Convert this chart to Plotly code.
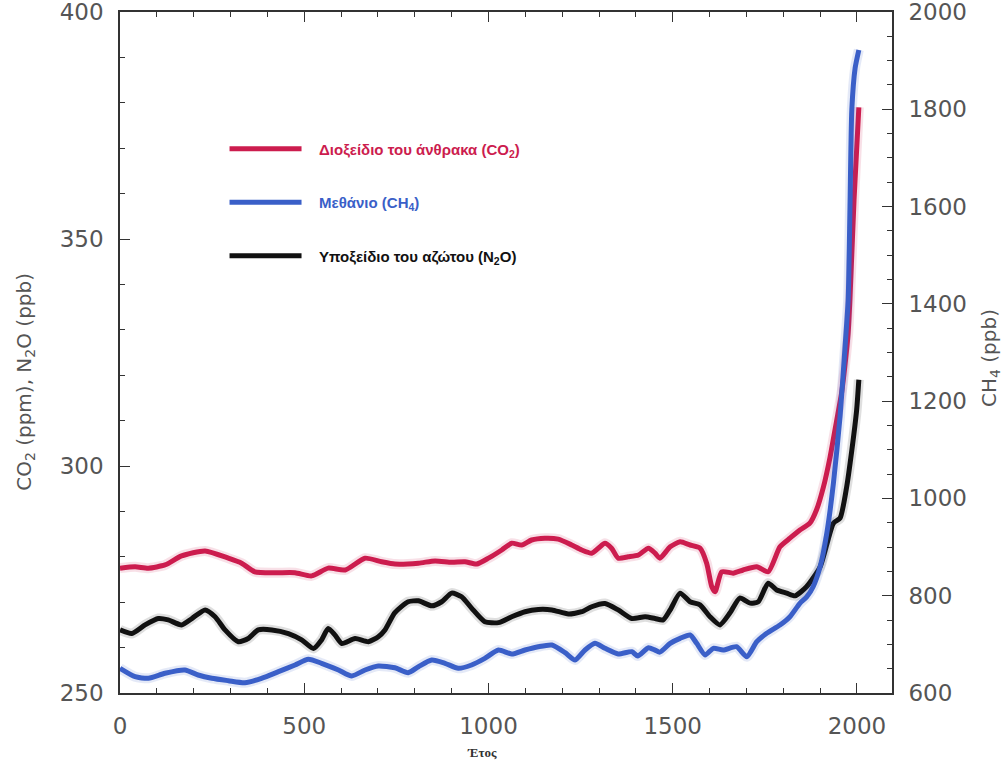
import plotly.graph_objects as go

# CO2 (ppm) — left axis
co2_year = [0, 41, 77, 122, 167, 231, 294, 330, 366, 421, 475, 520, 565, 611, 665, 710,
            746, 810, 855, 900, 936, 968, 1000, 1036, 1063, 1090, 1117, 1153, 1189, 1226,
            1253, 1280, 1298, 1316, 1334, 1352, 1379, 1407, 1434, 1452, 1465, 1493, 1520,
            1547, 1574, 1592, 1606, 1615, 1633, 1664, 1691, 1728, 1759, 1791, 1818, 1845,
            1872, 1890, 1909, 1927, 1945, 1958, 1967, 1976, 1981, 1992, 2005]
co2_ppm = [277.5, 277.8, 277.5, 278.2, 280.2, 281.3, 279.7, 278.6, 276.7, 276.5, 276.5,
           275.8, 277.5, 277.1, 279.7, 278.9, 278.4, 278.6, 279.1, 278.8, 278.9, 278.4,
           279.7, 281.5, 283.0, 282.6, 283.7, 284.1, 283.9, 282.6, 281.5, 280.8, 281.9,
           283.0, 281.9, 279.7, 280.0, 280.4, 281.9, 280.8, 279.7, 282.2, 283.3, 282.6,
           281.9, 278.6, 273.4, 272.3, 276.7, 276.4, 277.1, 277.8, 276.7, 282.2, 284.1,
           285.9, 287.4, 290.3, 295.4, 302.0, 310.1, 316.0, 321.9, 329.2, 337.0, 358.6,
           379.0]

# CH4 (ppb) — right axis
ch4_year = [0, 41, 77, 122, 176, 212, 249, 294, 339, 384, 430, 475, 511, 547, 593, 629,
            665, 701, 746, 782, 810, 846, 882, 918, 954, 990, 1027, 1063, 1099, 1135, 1172,
            1208, 1235, 1262, 1289, 1316, 1352, 1389, 1405, 1434, 1452, 1465, 1493, 1520,
            1547, 1565, 1588, 1610, 1637, 1673, 1701, 1728, 1755, 1791, 1818, 1845, 1864,
            1881, 1900, 1918, 1936, 1954, 1967, 1976, 1981, 1986, 1995, 2005]
ch4_ppb = [650.8, 633.5, 630.2, 640.5, 647.3, 637.0, 630.2, 625.3, 621.2, 630.2, 643.8,
           657.6, 669.3, 661.1, 647.3, 635.0, 647.3, 655.5, 651.8, 641.8, 654.1, 667.8,
           661.1, 650.8, 657.6, 671.3, 688.4, 680.2, 688.4, 695.2, 698.7, 682.9, 667.8,
           688.4, 702.1, 691.8, 680.2, 685.0, 676.0, 693.0, 688.0, 684.0, 702.1, 712.4,
           719.2, 702.1, 678.1, 691.9, 688.4, 695.2, 674.6, 705.5, 722.7, 739.8, 756.9,
           784.4, 798.0, 818.5, 859.7, 928.3, 1031.1, 1168.1, 1305.2, 1408.0, 1600.0,
           1800.0, 1885.0, 1922.0]

# N2O (ppb) — left axis
n2o_year = [0, 32, 68, 104, 131, 167, 195, 231, 258, 285, 321, 348, 375, 412, 457, 493,
            525, 547, 565, 583, 602, 638, 674, 701, 719, 746, 782, 810, 846, 873, 900, 927,
            954, 990, 1027, 1063, 1099, 1135, 1172, 1217, 1253, 1280, 1316, 1352, 1389,
            1425, 1452, 1474, 1493, 1520, 1547, 1574, 1601, 1628, 1655, 1682, 1710, 1732,
            1759, 1782, 1809, 1832, 1863, 1900, 1936, 1954, 1972, 1986, 1999, 2005]
n2o_ppb = [263.9, 263.1, 265.0, 266.4, 266.1, 265.0, 266.4, 268.3, 266.8, 263.9, 261.3,
           262.0, 263.9, 263.9, 263.1, 261.7, 259.8, 261.7, 264.2, 262.8, 260.9, 262.0,
           261.3, 262.4, 263.9, 267.7, 270.1, 270.3, 269.2, 270.1, 272.0, 271.2, 268.7,
           265.7, 265.5, 266.8, 267.9, 268.4, 268.3, 267.4, 267.9, 269.0, 269.7, 268.3,
           266.4, 266.8, 266.4, 266.1, 268.3, 272.0, 270.1, 269.4, 266.8, 265.0, 267.6,
           270.9, 269.8, 270.1, 274.2, 272.7, 272.0, 271.4, 273.4, 277.8, 287.4, 288.5,
           295.4, 303.5, 312.3, 319.0]

colors = ["#cc1c4e", "#3a5fc8", "#111111"]
labels = [
    "Διοξείδιο του άνθρακα (CO<sub>2</sub>)",
    "Μεθάνιο (CH<sub>4</sub>)",
    "Υποξείδιο του αζώτου (N<sub>2</sub>O)",
]
# legend entries carry their series colour; a small gap separates key and text
series_names = [f"<span style='color:{c}'>&nbsp;&nbsp;&nbsp;{t}</span>"
                for c, t in zip(colors, labels)]

tick_font = dict(family="DejaVu Sans", size=23, color="#555555")
axis_line = "#333333"

fig = go.Figure()

series = [
    (co2_year, co2_ppm, "y", 0),
    (n2o_year, n2o_ppb, "y", 2),
    (ch4_year, ch4_ppb, "y2", 1),
]

# soft halo underneath each curve
for xs, ys, ax, i in series:
    fig.add_trace(go.Scatter(x=xs, y=ys, yaxis=ax, mode="lines",
                             line=dict(color=colors[i], width=10, shape="spline",
                                       smoothing=0.6),
                             opacity=0.13, showlegend=False, hoverinfo="skip"))

for xs, ys, ax, i in series:
    fig.add_trace(go.Scatter(x=xs, y=ys, yaxis=ax, mode="lines", name=series_names[i],
                             legendgroup=str(i), legendrank=i + 1,
                             line=dict(color=colors[i], width=5, shape="spline",
                                       smoothing=0.6)))

fig.update_layout(
    width=1006, height=766,
    margin=dict(l=120, r=114, t=12, b=73),
    paper_bgcolor="white", plot_bgcolor="white",
    showlegend=True,
    legend=dict(x=0.1354, y=0.823, xanchor="left", yanchor="top",
                bgcolor="rgba(0,0,0,0)", itemwidth=72, tracegroupgap=31,
                font=dict(family="Liberation Sans", size=15, weight="bold")),
    xaxis=dict(range=[0, 2095], tickvals=[0, 500, 1000, 1500, 2000],
               ticks="inside", ticklen=10, tickwidth=1.3, tickcolor=axis_line,
               minor=dict(dtick=100, ticks="inside", ticklen=5, tickcolor=axis_line,
                          tickwidth=1.2),
               showline=True, linecolor=axis_line, linewidth=1.6, mirror="ticks",
               showgrid=False, zeroline=False, tickfont=tick_font,
               ticklabelstandoff=12, automargin=False, ticklabeloverflow="allow"),
    yaxis=dict(range=[250, 400], tickvals=[250, 300, 350, 400],
               ticks="inside", ticklen=10, tickwidth=1.3, tickcolor=axis_line,
               minor=dict(dtick=10, ticks="inside", ticklen=5, tickcolor=axis_line,
                          tickwidth=1.2),
               showline=True, linecolor=axis_line, linewidth=1.6,
               showgrid=False, zeroline=False, tickfont=tick_font,
               ticklabelstandoff=10, automargin=False, ticklabeloverflow="allow"),
    yaxis2=dict(range=[600, 2000], tickvals=[600, 800, 1000, 1200, 1400, 1600, 1800, 2000],
                overlaying="y", side="right",
                ticks="inside", ticklen=10, tickwidth=1.3, tickcolor=axis_line,
                minor=dict(dtick=50, ticks="inside", ticklen=5, tickcolor=axis_line,
                           tickwidth=1.2),
                showline=True, linecolor=axis_line, linewidth=1.6,
                showgrid=False, zeroline=False, tickfont=tick_font,
                ticklabelstandoff=10, automargin=False, ticklabeloverflow="allow"),
    annotations=[
        dict(text="CO<sub>2</sub> (ppm), N<sub>2</sub>O (ppb)", textangle=-90,
             xref="paper", yref="paper", x=-0.123, y=0.457,
             xanchor="center", yanchor="middle", showarrow=False,
             font=dict(family="DejaVu Sans", size=20, color="#555555")),
        dict(text="CH<sub>4</sub> (ppb)", textangle=-90,
             xref="paper", yref="paper", x=1.127, y=0.492,
             xanchor="center", yanchor="middle", showarrow=False,
             font=dict(family="DejaVu Sans", size=20, color="#555555")),
        dict(text="<b>Έτος</b>", xref="paper", yref="paper", x=0.469, y=-0.088,
             xanchor="center", yanchor="middle", showarrow=False,
             font=dict(family="Liberation Serif", size=13, color="#333333")),
    ],
)

fig.write_html("out.html")
